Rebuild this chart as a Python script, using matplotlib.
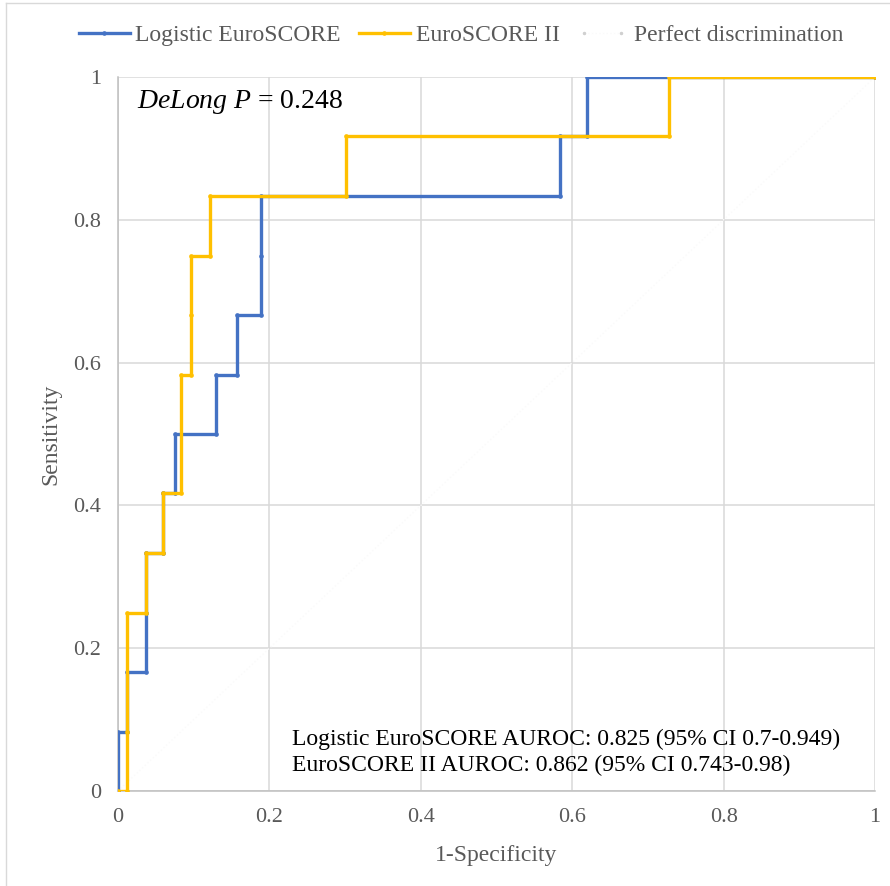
import matplotlib
matplotlib.use("Agg")
import matplotlib.pyplot as plt
from matplotlib.lines import Line2D
from matplotlib.legend_handler import HandlerLine2D

# ROC corner points (1-specificity, sensitivity)
log_fpr = [0, 0, 0.012, 0.012, 0.037, 0.037, 0.037, 0.060, 0.060, 0.075, 0.075, 0.129, 0.129,
           0.157, 0.157, 0.189, 0.189, 0.189, 0.584, 0.584, 0.619, 0.619, 1.0]
log_tpr = [0, 0.0833, 0.0833, 0.1667, 0.1667, 0.25, 0.3333, 0.3333, 0.4167, 0.4167, 0.5, 0.5,
           0.5833, 0.5833, 0.6667, 0.6667, 0.75, 0.8333, 0.8333, 0.9167, 0.9167, 1.0, 1.0]

es2_fpr = [0, 0.012, 0.012, 0.012, 0.037, 0.037, 0.060, 0.060, 0.083, 0.083, 0.097, 0.097,
           0.097, 0.121, 0.121, 0.301, 0.301, 0.728, 0.728, 1.0]
es2_tpr = [0, 0, 0.0833, 0.25, 0.25, 0.3333, 0.3333, 0.4167, 0.4167, 0.5833, 0.5833, 0.6667,
           0.75, 0.75, 0.8333, 0.8333, 0.9167, 0.9167, 1.0, 1.0]

perfect_x = [0, 1]
perfect_y = [0, 1]

series_names = ["Logistic EuroSCORE", "EuroSCORE II", "Perfect discrimination"]
ticks = [0, 0.2, 0.4, 0.6, 0.8, 1.0]
tick_labels = ["0", "0.2", "0.4", "0.6", "0.8", "1"]
delong_p = "0.248"
auroc_lines = ["Logistic EuroSCORE AUROC: 0.825 (95% CI 0.7-0.949)",
               "EuroSCORE II AUROC: 0.862 (95% CI 0.743-0.98)"]

plt.rcParams['font.family'] = ['Liberation Serif', 'DejaVu Serif']
plt.rcParams['mathtext.fontset'] = 'custom'
plt.rcParams['mathtext.rm'] = 'Liberation Serif'
plt.rcParams['mathtext.it'] = 'Liberation Serif:italic'

W, H = 890, 886
fig = plt.figure(figsize=(W / 100, H / 100), dpi=100)
ax = fig.add_axes([118 / W, 1 - 791 / H, (875 - 118) / W, (791 - 77) / H])

blue = "#4472C4"
gold = "#FFC000"
grid_c = "#d9d9d9"
txt_c = "#595959"

lp, = ax.plot(perfect_x, perfect_y, color="#fafafa", lw=1, ls=":", marker="o", ms=1.5,
              mfc="#d0d0d0", mec="#d0d0d0", label=series_names[2], zorder=2)
lb, = ax.plot(log_fpr, log_tpr, color=blue, lw=2.4, marker="o", ms=2.3, mfc=blue, mec=blue,
              label=series_names[0], zorder=3, solid_joinstyle="miter")
ly, = ax.plot(es2_fpr, es2_tpr, color=gold, lw=2.4, marker="o", ms=2.3, mfc=gold, mec=gold,
              label=series_names[1], zorder=4, solid_joinstyle="miter")

ax.set_xlim(0, 1)
ax.set_ylim(0, 1)
ax.set_xticks(ticks)
ax.set_xticklabels(tick_labels)
ax.set_yticks(ticks)
ax.set_yticklabels(tick_labels)
ax.tick_params(length=0, labelsize=16, labelcolor=txt_c, pad=12)
ax.tick_params(axis='x', pad=12)
ax.grid(True, color=grid_c, lw=1.1)
ax.set_axisbelow(True)
for s in ["top", "right"]:
    ax.spines[s].set_visible(False)
for s in ["left", "bottom"]:
    ax.spines[s].set_color("#bfbfbf")
    ax.spines[s].set_linewidth(1.1)

ax.set_xlabel("1-Specificity", fontsize=17, color=txt_c, labelpad=13)
ax.set_ylabel("Sensitivity", fontsize=17, color=txt_c, labelpad=9)

ax.text(0.025, 0.965, r"$\mathit{DeLong\ P}$ = " + delong_p, transform=ax.transAxes,
        fontsize=20, va="center", ha="left", color="black")
ax.text(0.2299, 0.0728, auroc_lines[0], transform=ax.transAxes,
        fontsize=17, va="center", ha="left", color="black")
ax.text(0.2299, 0.0364, auroc_lines[1], transform=ax.transAxes,
        fontsize=17, va="center", ha="left", color="black")

leg = fig.legend(handles=[lb, ly, lp], labels=series_names, loc="center",
                 bbox_to_anchor=(461 / W, 1 - 35 / H), ncol=3, frameon=False,
                 fontsize=17, handlelength=2.16, columnspacing=0.75, handletextpad=0.25,
                 numpoints=1, handler_map={lp: HandlerLine2D(numpoints=2)})
for t in leg.get_texts():
    t.set_color(txt_c)

# outer chart border (partially visible)
fig.add_artist(Line2D([6 / W, 1], [1 - 3 / H, 1 - 3 / H], transform=fig.transFigure,
                      color="#d9d9d9", lw=1))
fig.add_artist(Line2D([6 / W, 6 / W], [0, 1 - 3 / H], transform=fig.transFigure,
                      color="#d9d9d9", lw=1))

fig.savefig("out.png", dpi=100)
